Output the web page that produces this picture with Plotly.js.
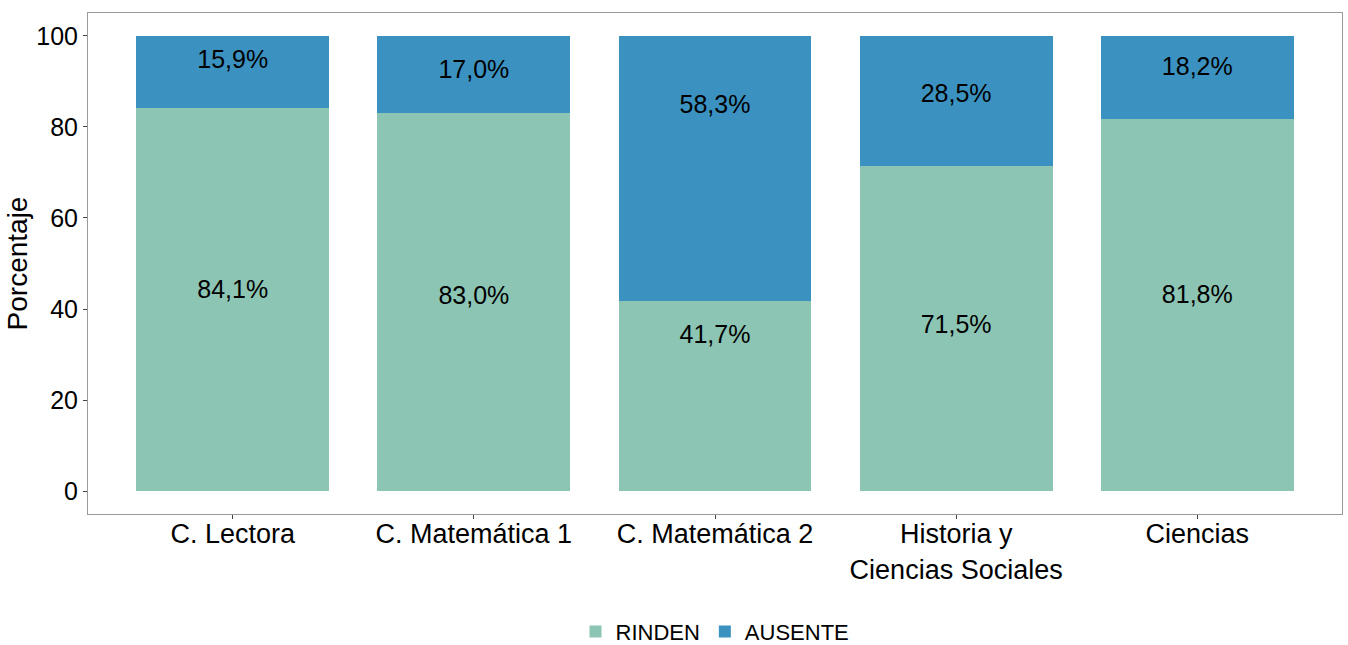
<!DOCTYPE html>
<html>
<head>
<meta charset="utf-8">
<script src="https://cdn.plot.ly/plotly-3.0.1.min.js"></script>
<style>
  html, body { margin: 0; padding: 0; background: #fff; }
  #chart { width: 1348px; height: 645px; }
</style>
</head>
<body>
<div id="chart"></div>
<script>
const categories = ["C. Lectora", "C. Matemática 1", "C. Matemática 2", "Historia y<br>Ciencias Sociales", "Ciencias"];
const rinden = [84.1, 83.0, 41.7, 71.5, 81.8];
const ausente = [15.9, 17.0, 58.3, 28.5, 18.2];
// label heights as they sit in the picture (not at segment centres)
const rindenLabelY = [43.8, 42.4, 34.0, 36.2, 42.6];
const ausenteLabelY = [94.3, 92.2, 84.4, 86.8, 92.8];

const FONT = "Liberation Sans, Arial, sans-serif";
const pct = (v) => v.toFixed(1).replace(".", ",") + "%";

function labelTrace(y, values) {
  return {
    type: "scatter",
    mode: "text",
    x: categories,
    y,
    text: values.map(pct),
    textfont: { family: FONT, size: 25, color: "#000" },
    showlegend: false,
    hoverinfo: "skip",
  };
}

const traces = [
  { type: "bar", name: "RINDEN", x: categories, y: rinden, marker: { color: "#8cc5b3" }, hoverinfo: "skip" },
  { type: "bar", name: "AUSENTE", x: categories, y: ausente, marker: { color: "#3b92c0" }, hoverinfo: "skip" },
  labelTrace(rindenLabelY, rinden),
  labelTrace(ausenteLabelY, ausente),
];

const layout = {
  width: 1348,
  height: 645,
  margin: { l: 88, r: 6, t: 13, b: 131, autoexpand: false },
  paper_bgcolor: "#fff",
  plot_bgcolor: "#fff",
  barmode: "stack",
  bargap: 0.2,
  font: { family: FONT, color: "#000" },
  xaxis: {
    range: [-0.6, 4.6],
    showgrid: false,
    zeroline: false,
    showline: true,
    mirror: true,
    linecolor: "#9a9a9a",
    linewidth: 1,
    ticks: "outside",
    ticklen: 4,
    tickcolor: "#444",
    ticklabelstandoff: -8,
    tickfont: { family: FONT, size: 27, color: "#000" },
  },
  yaxis: {
    range: [-5, 105],
    tickvals: [0, 20, 40, 60, 80, 100],
    showgrid: false,
    zeroline: false,
    showline: true,
    mirror: true,
    linecolor: "#9a9a9a",
    linewidth: 1,
    ticks: "outside",
    ticklen: 4,
    tickcolor: "#444",
    tickfont: { family: FONT, size: 25, color: "#000" },
    title: { text: "Porcentaje", font: { family: FONT, size: 28, color: "#000" }, standoff: 0 },
  },
  legend: {
    orientation: "h",
    x: 0.5,
    xanchor: "center",
    y: -0.235,
    yanchor: "middle",
    font: { family: FONT, size: 22, color: "#000" },
    traceorder: "normal",
  },
  showlegend: true,
};

Plotly.newPlot("chart", traces, layout, { displayModeBar: false, staticPlot: true });
</script>
</body>
</html>
